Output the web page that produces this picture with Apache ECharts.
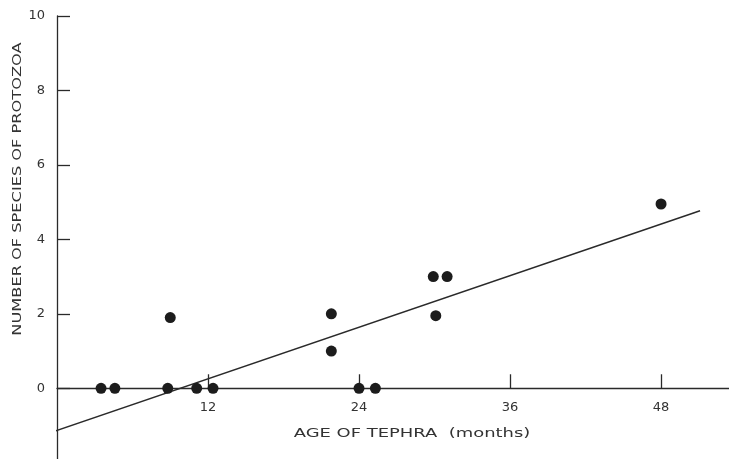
<!DOCTYPE html>
<html>
<head>
<meta charset="utf-8">
<script src="https://cdn.jsdelivr.net/npm/echarts@6/dist/echarts.min.js"></script>
<style>
html,body{margin:0;padding:0;background:#fff;}
#chart{width:729px;height:459px;}
</style>
</head>
<body>
<div id="chart"></div>
<script>
// Observations: age of tephra (months) vs number of protozoan species
const ageMonths = [3.5, 4.6, 8.8, 9.0, 11.1, 12.4, 21.8, 21.8, 24.0, 25.3, 30.1, 29.9, 31.0, 48.0];
const speciesCount = [0, 0, 0, 1.9, 0, 0, 2.0, 1.0, 0, 0, 1.95, 3.0, 3.0, 4.95];
// Fitted regression line end points
const fitX = [-0.95, 51.1];
const fitY = [-1.24, 4.77];
// Tick labels
const xTicks = [12, 24, 36, 48];
const yTicks = [0, 2, 4, 6, 8, 10];
// Axis titles
const xTitle = 'AGE OF TEPHRA  (months)';
const yTitle = 'NUMBER OF SPECIES OF PROTOZOA';

const points = ageMonths.map((x, i) => [x, speciesCount[i]]);
const fitLine = fitX.map((x, i) => [x, fitY[i]]);

const ink = '#2a2a2a';
const font = 'DejaVu Sans';
const W = 729, H = 459;
const gridTop = 16, gridBottom = 0;
const yMin = -1.9, yMax = 10;
// distance of the value-0 line above the grid bottom
const zeroOffset = (H - gridTop - gridBottom) * (0 - yMin) / (yMax - yMin);

const chart = echarts.init(document.getElementById('chart'), null, {renderer: 'canvas'});
chart.setOption({
  backgroundColor: '#ffffff',
  animation: false,
  grid: {left: 57, right: 0, top: gridTop, bottom: gridBottom, containLabel: false, outerBoundsMode: 'none'},
  xAxis: {
    type: 'value',
    min: 0,
    max: 53.4,
    offset: -zeroOffset,
    splitLine: {show: false},
    axisLine: {onZero: false, lineStyle: {color: ink, width: 1.3}},
    axisTick: {show: true, inside: true, length: 14, customValues: xTicks, lineStyle: {color: ink, width: 1.3}},
    axisLabel: {customValues: xTicks, color: '#333', fontFamily: font, fontSize: 13, margin: 13}
  },
  yAxis: {
    type: 'value',
    min: yMin,
    max: yMax,
    splitLine: {show: false},
    axisLine: {onZero: false, lineStyle: {color: ink, width: 1.3}},
    axisTick: {show: true, inside: true, length: 13, customValues: yTicks, lineStyle: {color: ink, width: 1.3}},
    axisLabel: {customValues: yTicks, color: '#333', fontFamily: font, fontSize: 13, margin: 12}
  },
  graphic: [
    {
      type: 'text',
      x: 412, y: 434,
      scaleX: 1.38,
      style: {text: xTitle, fill: '#333', font: '13px "DejaVu Sans"', align: 'center', verticalAlign: 'middle'}
    },
    {
      type: 'text',
      x: 18, y: 189,
      rotation: Math.PI / 2,
      scaleX: 1.35,
      style: {text: yTitle, fill: '#333', font: '12px "DejaVu Sans"', align: 'center', verticalAlign: 'middle'}
    }
  ],
  series: [
    {
      type: 'line',
      data: fitLine,
      clip: false,
      symbol: 'none',
      silent: true,
      lineStyle: {color: ink, width: 1.5},
      z: 2
    },
    {
      type: 'scatter',
      data: points,
      symbol: 'circle',
      symbolSize: 11,
      itemStyle: {color: '#1c1c1c', opacity: 1},
      z: 3
    }
  ]
});
</script>
</body>
</html>
